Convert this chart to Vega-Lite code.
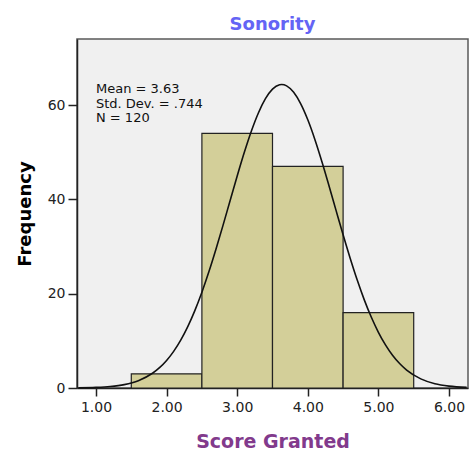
{
  "$schema": "https://vega.github.io/schema/vega-lite/v6.json",
  "width": 391,
  "height": 349,
  "autosize": {"type": "none"},
  "padding": {"left": 77, "top": 39, "right": 1, "bottom": 62},
  "background": "white",
  "title": {
    "text": "Sonority",
    "font": "DejaVu Sans",
    "fontSize": 18,
    "fontWeight": "bold",
    "color": "#6464F5",
    "anchor": "middle",
    "baseline": "alphabetic",
    "frame": "group",
    "offset": 10,
    "dy": 19
  },
  "config": {
    "view": {"fill": "#F0F0F0", "stroke": "#5a5a5a", "strokeWidth": 1.5},
    "axis": {
      "grid": false,
      "domainColor": "#222222",
      "domainWidth": 1.5,
      "tickColor": "#222222",
      "tickWidth": 1.5,
      "labelFont": "DejaVu Sans",
      "labelFontSize": 14,
      "labelColor": "#222222",
      "titleFont": "DejaVu Sans",
      "titleFontWeight": "bold"
    }
  },
  "datasets": {
    "bins": [
      {"start": 1.5, "end": 2.5, "count": 3},
      {"start": 2.5, "end": 3.5, "count": 54},
      {"start": 3.5, "end": 4.5, "count": 47},
      {"start": 4.5, "end": 5.5, "count": 16}
    ],
    "curve": [
      {"x": 0.75, "y": 0.036},
      {"x": 1.0, "y": 0.124},
      {"x": 1.2, "y": 0.311},
      {"x": 1.4, "y": 0.721},
      {"x": 1.6, "y": 1.556},
      {"x": 1.8, "y": 3.125},
      {"x": 1.9, "y": 4.309},
      {"x": 2.0, "y": 5.838},
      {"x": 2.1, "y": 7.768},
      {"x": 2.2, "y": 10.149},
      {"x": 2.3, "y": 13.021},
      {"x": 2.4, "y": 16.407},
      {"x": 2.5, "y": 20.306},
      {"x": 2.6, "y": 24.68},
      {"x": 2.7, "y": 29.463},
      {"x": 2.8, "y": 34.538},
      {"x": 2.9, "y": 39.763},
      {"x": 3.0, "y": 44.964},
      {"x": 3.1, "y": 49.928},
      {"x": 3.2, "y": 54.452},
      {"x": 3.3, "y": 58.321},
      {"x": 3.4, "y": 61.347},
      {"x": 3.5, "y": 63.375},
      {"x": 3.6, "y": 64.298},
      {"x": 3.63, "y": 64.35},
      {"x": 3.7, "y": 64.066},
      {"x": 3.8, "y": 62.691},
      {"x": 3.9, "y": 60.249},
      {"x": 4.0, "y": 56.865},
      {"x": 4.1, "y": 52.71},
      {"x": 4.2, "y": 47.985},
      {"x": 4.3, "y": 42.898},
      {"x": 4.4, "y": 37.667},
      {"x": 4.5, "y": 32.48},
      {"x": 4.6, "y": 27.506},
      {"x": 4.7, "y": 22.878},
      {"x": 4.8, "y": 18.687},
      {"x": 4.9, "y": 14.99},
      {"x": 5.0, "y": 11.811},
      {"x": 5.1, "y": 9.137},
      {"x": 5.2, "y": 6.944},
      {"x": 5.3, "y": 5.182},
      {"x": 5.4, "y": 3.797},
      {"x": 5.6, "y": 1.933},
      {"x": 5.8, "y": 0.915},
      {"x": 6.0, "y": 0.403},
      {"x": 6.25, "y": 0.131}
    ],
    "stats": [
      {"x": 1.0, "y": 62.5, "lines": ["Mean = 3.63", "Std. Dev. = .744", "N = 120"]}
    ]
  },
  "layer": [
    {
      "data": {"name": "bins"},
      "mark": {"type": "rect", "fill": "#D3CF99", "stroke": "#222222", "strokeWidth": 1.2},
      "encoding": {
        "x": {
          "field": "start",
          "type": "quantitative",
          "scale": {"domain": [0.731, 6.269], "nice": false, "zero": false},
          "axis": {
            "values": [1, 2, 3, 4, 5, 6],
            "format": ".2f",
            "tickSize": 8,
            "labelPadding": 4,
            "title": "Score Granted",
            "titleFontSize": 19,
            "titleColor": "#823A8C",
            "titleBaseline": "alphabetic",
            "titleY": 59
          }
        },
        "x2": {"field": "end"},
        "y": {
          "field": "count",
          "type": "quantitative",
          "scale": {"domain": [0, 74], "nice": false},
          "axis": {
            "values": [0, 20, 40, 60],
            "tickSize": 9,
            "labelPadding": 3,
            "title": "Frequency",
            "titleFontSize": 18,
            "titleColor": "#000000",
            "titleBaseline": "alphabetic",
            "titleX": -47,
            "titleY": 174.5
          }
        },
        "y2": {"datum": 0}
      }
    },
    {
      "data": {"name": "curve"},
      "mark": {"type": "line", "color": "#111111", "strokeWidth": 1.6, "interpolate": "monotone"},
      "encoding": {
        "x": {"field": "x", "type": "quantitative"},
        "y": {"field": "y", "type": "quantitative"}
      }
    },
    {
      "data": {"name": "stats"},
      "mark": {"type": "text", "align": "left", "baseline": "alphabetic", "font": "DejaVu Sans", "fontSize": 13, "lineHeight": 14.5, "color": "#111111"},
      "encoding": {
        "x": {"field": "x", "type": "quantitative"},
        "y": {"field": "y", "type": "quantitative"},
        "text": {"field": "lines"}
      }
    }
  ]
}
